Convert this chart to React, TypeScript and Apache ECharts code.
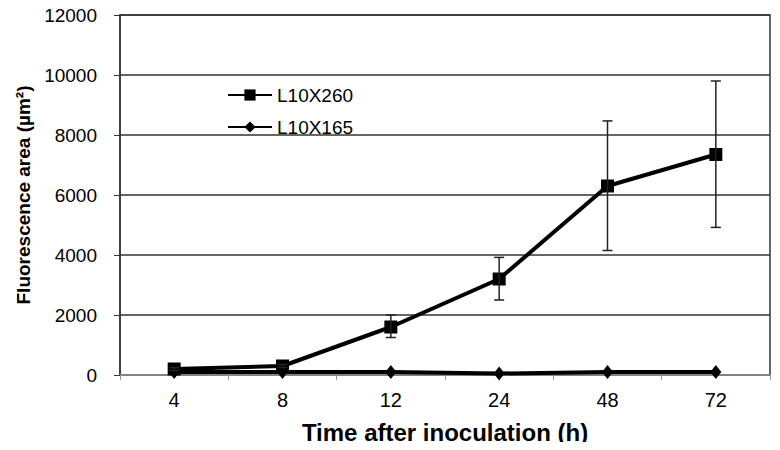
import React, { useEffect, useRef } from "react";
import * as echarts from "echarts";

const categories = ["4", "8", "12", "24", "48", "72"];
const l10x260 = [200, 300, 1600, 3200, 6300, 7350];
const l10x260Low = [150, 250, 1250, 2500, 4150, 4920];
const l10x260High = [250, 350, 2000, 3920, 8470, 9800];
const l10x165 = [100, 100, 100, 50, 100, 100];
const yTicks = { min: 0, max: 12000, interval: 2000 };

export default function App() {
  const ref = useRef<HTMLDivElement>(null);
  useEffect(() => {
    if (!ref.current) return;
    const chart = echarts.init(ref.current, null, { renderer: "svg" });
    const errData = categories.map((_, i) => [i, l10x260Low[i], l10x260High[i]]);
    chart.setOption({
      animation: false,
      backgroundColor: "#ffffff",
      grid: {
        left: 120,
        right: 10,
        top: 15,
        bottom: 75,
        show: true,
        borderColor: "#333333",
        borderWidth: 1.5,
      },
      legend: {
        left: 222,
        top: 80,
        orient: "vertical",
        itemWidth: 44,
        itemHeight: 14,
        itemGap: 12,
        textStyle: { fontFamily: "Liberation Sans, Arial", fontSize: 19, lineHeight: 20, color: "#000" },
        data: ["L10X260", "L10X165"],
      },
      xAxis: {
        type: "category",
        data: categories,
        boundaryGap: true,
        name: "Time after inoculation (h)",
        nameLocation: "middle",
        nameGap: 45,
        nameTextStyle: {
          fontFamily: "Liberation Sans, Arial",
          fontWeight: "bold",
          fontSize: 24,
          color: "#000",
        },
        axisLine: { lineStyle: { color: "#9a9a9a", width: 1.5 } },
        axisTick: { show: true, length: 5, lineStyle: { color: "#9a9a9a", width: 1 } },
        axisLabel: {
          fontFamily: "Liberation Sans, Arial",
          fontSize: 20,
          color: "#000",
          margin: 15,
        },
      },
      yAxis: {
        type: "value",
        min: yTicks.min,
        max: yTicks.max,
        interval: yTicks.interval,
        name: "Fluorescence area (µm²)",
        nameLocation: "middle",
        nameRotate: 90,
        nameGap: 87,
        nameTextStyle: {
          fontFamily: "Liberation Sans, Arial",
          fontWeight: "bold",
          fontSize: 19,
          color: "#000",
        },
        axisLine: { show: true, lineStyle: { color: "#333333", width: 1.5 } },
        axisTick: { show: true, length: 6, lineStyle: { color: "#333333", width: 1 } },
        axisLabel: {
          fontFamily: "Liberation Sans, Arial",
          fontSize: 19,
          color: "#000",
          margin: 23,
          formatter: (v: number) => String(v),
        },
        splitLine: { show: true, lineStyle: { color: "#333333", width: 1.5 } },
      },
      series: [
        {
          name: "L10X260",
          type: "line",
          data: l10x260,
          symbol: "rect",
          symbolSize: 13,
          lineStyle: { color: "#000", width: 4 },
          itemStyle: { color: "#000" },
          z: 3,
        },
        {
          name: "L10X165",
          type: "line",
          data: l10x165,
          symbol: "diamond",
          symbolSize: [11, 14],
          lineStyle: { color: "#000", width: 4 },
          itemStyle: { color: "#000" },
          z: 3,
        },
        {
          name: "err",
          type: "custom",
          data: errData,
          z: 4,
          renderItem: (params: any, api: any) => {
            const x = api.value(0);
            const lo = api.coord([x, api.value(1)]);
            const hi = api.coord([x, api.value(2)]);
            const cap = 5;
            const style = { stroke: "#222", lineWidth: 1.5 };
            return {
              type: "group",
              children: [
                { type: "line", shape: { x1: lo[0], y1: lo[1], x2: hi[0], y2: hi[1] }, style },
                { type: "line", shape: { x1: lo[0] - cap, y1: lo[1], x2: lo[0] + cap, y2: lo[1] }, style },
                { type: "line", shape: { x1: hi[0] - cap, y1: hi[1], x2: hi[0] + cap, y2: hi[1] }, style },
              ],
            };
          },
        },
      ],
    });
    return () => chart.dispose();
  }, []);
  return <div ref={ref} style={{ width: 780, height: 450, margin: -8 }} />;
}
